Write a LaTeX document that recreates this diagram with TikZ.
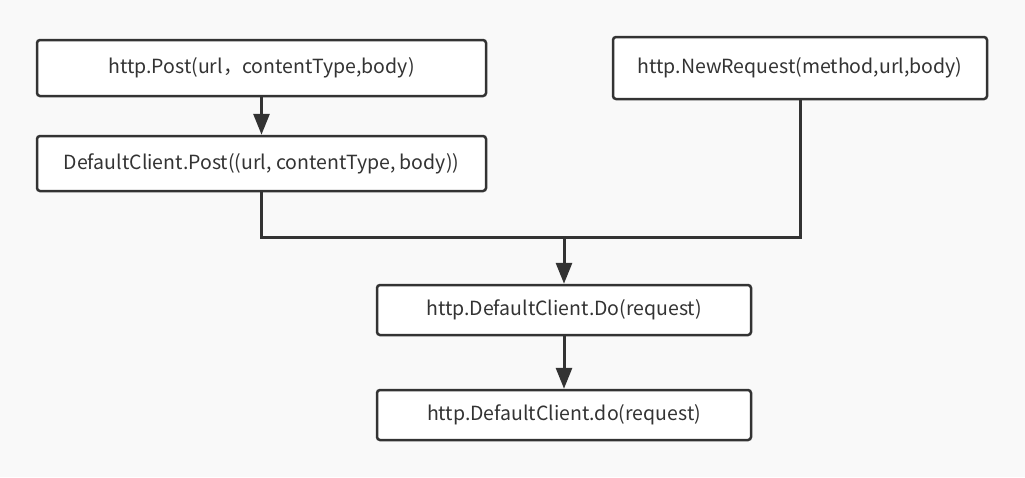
\documentclass[tikz,border=0pt]{standalone}
\usepackage{fontspec}
\newfontfamily\cjk{Noto Sans CJK SC}
\usepackage{tikz}
\usetikzlibrary{arrows.meta}
\definecolor{bg}{HTML}{F9F9F9}
\definecolor{ink}{HTML}{333333}
\tikzstyle{std} = [rectangle, rounded corners=3pt, minimum width=374pt, minimum height=50pt, text centered, draw=ink, line width=2.5pt, fill=white, font=\cjk\fontsize{19.5}{23}\selectfont, text=ink]
\tikzstyle{arrow} = [draw=ink, line width=3pt, -{Triangle[length=21pt,width=16pt]}]
\tikzstyle{line} = [draw=ink, line width=3pt]

\begin{document}
\begin{tikzpicture}[x=1pt, y=-1pt]
    \fill [bg] (0,0) rectangle (1025,477);
    \useasboundingbox (0,0) rectangle (1025,477);

    \node (post)   [std, minimum width=449pt, minimum height=56pt] at (261.5,68) {http.Post(url，contentType,body)};
    \node (dpost)  [std, minimum width=449pt, minimum height=55pt] at (261.5,163.5) {DefaultClient.Post((url, contentType, body))};
    \node (newreq) [std, minimum height=62pt] at (800,68) {http.NewRequest(method,url,body)};
    \node (do)     [std] at (564,310) {http.DefaultClient.Do(request)};
    \node (dolow)  [std] at (564,415) {http.DefaultClient.do(request)};
    \coordinate (join) at (564,237);

    \draw [arrow] (post) -- (dpost);
    \draw [line] (dpost.south) |- (join);
    \draw [line] (newreq.south) |- (join);
    \draw [arrow] (join) -- (do);
    \draw [arrow] (do) -- (dolow);

  \end{tikzpicture}
\end{document}
